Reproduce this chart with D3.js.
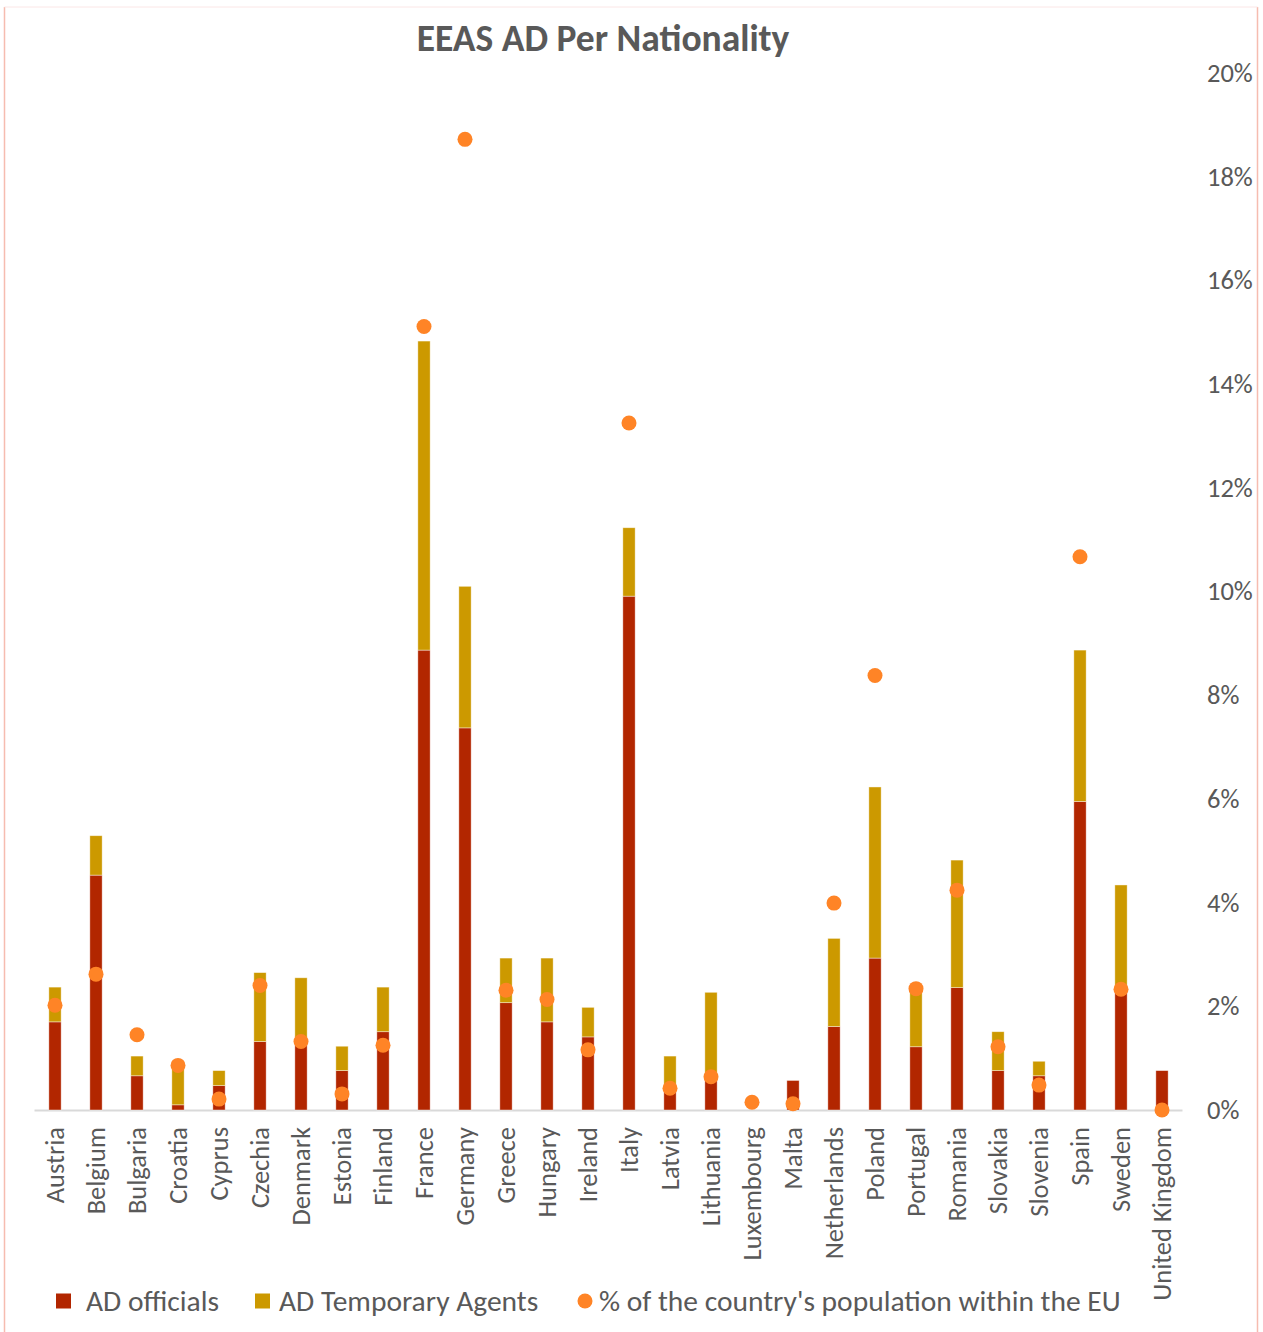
<!DOCTYPE html>
<html>
<head>
<meta charset="utf-8">
<script src="https://cdn.jsdelivr.net/npm/d3@7"></script>
<style>
  html, body { margin: 0; padding: 0; background: #fff; }
  svg text { font-family: Carlito, Calibri, "Open Sans", sans-serif; fill: #595959; }
</style>
</head>
<body>
<svg id="chart" width="1263" height="1332"></svg>
<script>
const categories = ["Austria","Belgium","Bulgaria","Croatia","Cyprus","Czechia","Denmark","Estonia","Finland","France","Germany","Greece","Hungary","Ireland","Italy","Latvia","Lithuania","Luxembourg","Malta","Netherlands","Poland","Portugal","Romania","Slovakia","Slovenia","Spain","Sweden","United Kingdom"];
const adOfficials = [1.70,4.53,0.66,0.10,0.47,1.32,1.35,0.76,1.51,8.87,7.37,2.07,1.70,1.41,9.91,0.38,0.60,0,0.57,1.61,2.93,1.22,2.36,0.76,0.66,5.95,2.28,0.76];
const adTemporary = [0.67,0.76,0.38,0.75,0.29,1.33,1.20,0.47,0.86,5.96,2.73,0.86,1.23,0.57,1.32,0.66,1.67,0,0,1.70,3.30,1.06,2.46,0.75,0.28,2.92,2.06,0];
const populationShare = [2.02,2.62,1.45,0.86,0.21,2.40,1.32,0.31,1.25,15.11,18.72,2.31,2.13,1.16,13.25,0.42,0.64,0.15,0.12,3.99,8.38,2.34,4.24,1.22,0.48,10.67,2.33,0];
const yTicks = [0,2,4,6,8,10,12,14,16,18,20];
const seriesNames = ["AD officials","AD Temporary Agents","% of the country's population within the EU"];
const title = "EEAS AD Per Nationality";

const colors = { officials: "#B22600", temporary: "#CC9900", dot: "#FF8426" };

const svg = d3.select("#chart");

// outer border
svg.append("line").attr("x1",4.5).attr("x2",4.5).attr("y1",7).attr("y2",1332).attr("stroke","#F6BCB0").attr("stroke-width",1.5);
svg.append("line").attr("x1",1257.5).attr("x2",1257.5).attr("y1",7).attr("y2",1332).attr("stroke","#F6BCB0").attr("stroke-width",1.5);
svg.append("line").attr("x1",4.5).attr("x2",1257.5).attr("y1",7).attr("y2",7).attr("stroke","#FBE6E6").attr("stroke-width",1);

const x = d3.scaleBand().domain(categories).range([34.5, 1182.5]).paddingInner(0.7).paddingOuter(0.35);
const y = d3.scaleLinear().domain([0, 20]).range([1110, 73]);

const table = categories.map((c, i) => ({ cat: c, officials: adOfficials[i], temporary: adTemporary[i], pop: populationShare[i] }));
const stack = d3.stack().keys(["officials","temporary"]);
const layers = stack(table);

// baseline
svg.append("line").attr("x1", x.range()[0]).attr("x2", x.range()[1]).attr("y1", y(0)+0.5).attr("y2", y(0)+0.5)
  .attr("stroke","#D9D9D9").attr("stroke-width",2);

svg.append("g").selectAll("g").data(layers).join("g")
  .attr("fill", d => colors[d.key])
  .selectAll("rect").data(d => d).join("rect")
  .attr("x", d => x(d.data.cat))
  .attr("width", x.bandwidth())
  .attr("y", d => y(d[1]))
  .attr("height", d => Math.max(0, y(d[0]) - y(d[1])))
  .attr("stroke", "rgba(255,255,255,0.55)")
  .attr("stroke-width", 0.75);

// dots
svg.append("g").selectAll("circle").data(table).join("circle")
  .attr("cx", d => x(d.cat) + x.bandwidth()/2)
  .attr("cy", d => y(d.pop))
  .attr("r", 7.5)
  .attr("fill", colors.dot);

// right axis
const axis = d3.axisRight(y).tickValues(yTicks).tickFormat(d => d + "%").tickSize(0).tickPadding(0);
const ag = svg.append("g").attr("transform", "translate(1207,0)").call(axis);
ag.select(".domain").remove();
ag.selectAll("text").attr("font-size", 26.5).style("font-family", null).attr("fill", "#595959");

// category axis
const xAxis = d3.axisBottom(x).tickSize(0).tickPadding(0);
const xg = svg.append("g").attr("transform", `translate(0,${y(0)})`).call(xAxis);
xg.select(".domain").remove();
xg.selectAll("text")
  .attr("font-size", 26.5)
  .style("font-family", null)
  .attr("fill", "#595959")
  .attr("text-anchor", "end")
  .attr("transform", "rotate(-90)")
  .attr("x", -17)
  .attr("y", 0)
  .attr("dy", "0.35em");

// title
svg.append("text").attr("x", 603).attr("y", 51).attr("text-anchor", "middle")
  .attr("font-size", 37.5).attr("font-weight", "bold").text(title);

// legend
const legendY = 1301;
const lg = svg.append("g");
const legendItems = [
  { name: seriesNames[0], type: "rect", color: colors.officials, mx: 56, tx: 86 },
  { name: seriesNames[1], type: "rect", color: colors.temporary, mx: 255, tx: 279 },
  { name: seriesNames[2], type: "circle", color: colors.dot, mx: 578, tx: 599 }
];
legendItems.forEach(it => {
  if (it.type === "rect") {
    lg.append("rect").attr("x", it.mx).attr("y", legendY - 7.5).attr("width", 15).attr("height", 15).attr("fill", it.color);
  } else {
    lg.append("circle").attr("cx", it.mx + 7).attr("cy", legendY).attr("r", 7.5).attr("fill", it.color);
  }
  lg.append("text").attr("x", it.tx).attr("y", legendY).attr("dy", "0.35em").attr("font-size", 29.5).text(it.name);
});
</script>
</body>
</html>
